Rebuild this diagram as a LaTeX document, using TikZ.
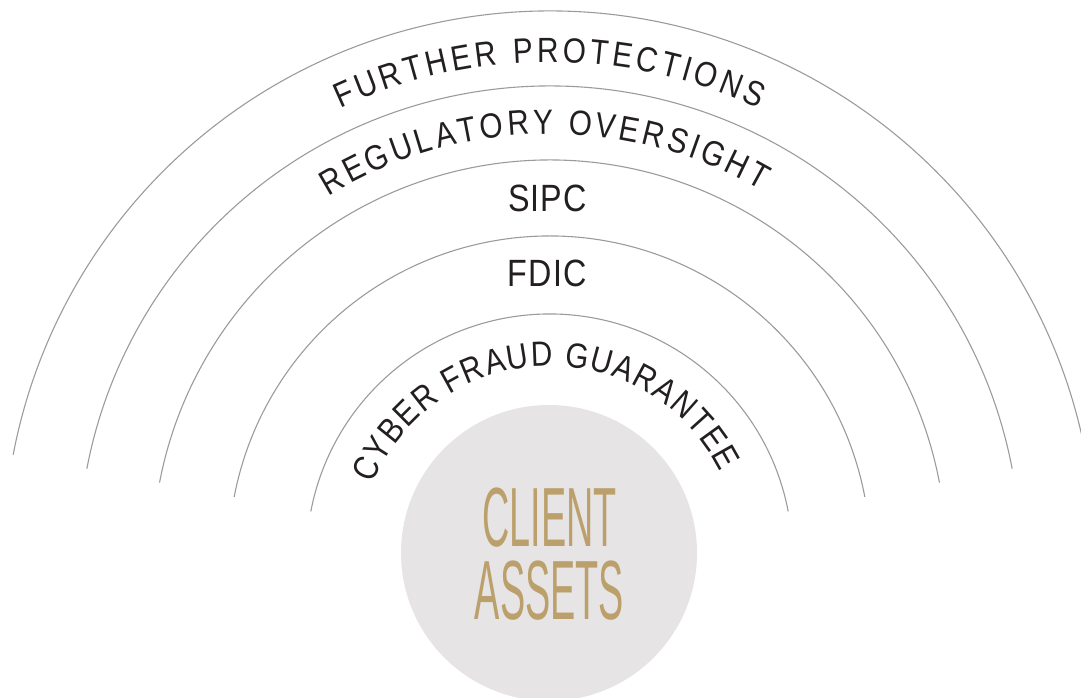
\documentclass[tikz,border=0pt]{standalone}
\usepackage{fontspec}
\usetikzlibrary{decorations.text}
\newfontfamily\lblfont[FakeStretch=0.85]{Liberation Sans}
\newfontfamily\condfont[FakeStretch=0.45]{Liberation Sans}
\definecolor{ink}{HTML}{231F20}
\definecolor{ringgray}{HTML}{9B9B9B}
\definecolor{disk}{HTML}{E6E4E5}
\definecolor{gold}{HTML}{BBA06C}
\newcommand\ringfont{\lblfont\fontsize{35}{42}\selectfont\color{ink}}
\newcommand\flatfont{\lblfont\fontsize{38}{44}\selectfont\color{ink}}
\begin{document}
\begin{tikzpicture}[x=1pt,y=1pt,
  ring/.style={draw=ringgray,line width=1.1pt},
  ringtext/.style={decorate,decoration={text along path,text={#1},text align={fit to path}}}]
\useasboundingbox (0,0) rectangle (1081,698);
\coordinate (O) at (549.5,141);
% client assets disk
\node[circle, fill=disk, minimum size=296pt, inner sep=0pt] (assets) at (549,145) {};
\node[text=gold, font=\condfont\fontsize{84}{73}\selectfont, align=center, inner sep=0pt] (assetslabel) at (549.5,143.5) {CLIENT\\ASSETS};
\begin{scope}[shift={(549.5,141)}]
  % rings
  \draw[ring] (10.8:243) arc[start angle=10.8, end angle=169.2, radius=243];
  \draw[ring] (10.8:321) arc[start angle=10.8, end angle=169.2, radius=321];
  \draw[ring] (10.8:397) arc[start angle=10.8, end angle=169.2, radius=397];
  \draw[ring] (10.8:471) arc[start angle=10.8, end angle=169.2, radius=471];
  \draw[ring] (10.8:546) arc[start angle=10.8, end angle=169.2, radius=546];
  % curved labels
  \path[ringtext={|\ringfont|FURTHER PROTECTIONS}] (115:495) arc[start angle=115, end angle=65, radius=495];
  \path[ringtext={|\ringfont|REGULATORY OVERSIGHT}] (121.5:423) arc[start angle=121.5, end angle=60, radius=423];
  \path[ringtext={|\ringfont|CYBER FRAUD GUARANTEE}] (157.5:191) arc[start angle=157.5, end angle=26.5, radius=191];
\end{scope}
% straight labels
\path[ringtext={|\flatfont|SIPC}] (508,486) -- (587,486);
\path[ringtext={|\flatfont|FDIC}] (507,411) -- (587,411);
\end{tikzpicture}
\end{document}
